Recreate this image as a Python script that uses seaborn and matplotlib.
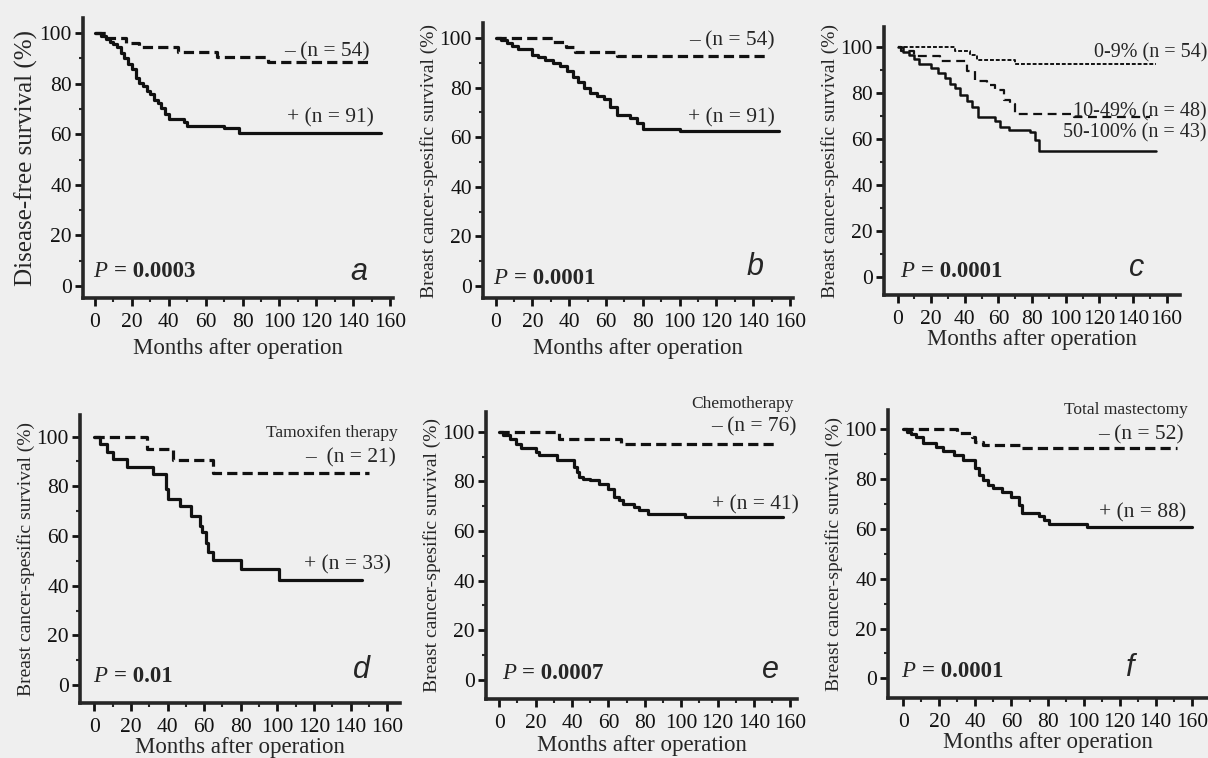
import numpy as np
import pandas as pd
import matplotlib
matplotlib.use("Agg")
import matplotlib.pyplot as plt
from matplotlib.ticker import MultipleLocator
import seaborn as sns

# ---------------- data (months, survival %) ----------------
a_neg_t = [0, 6, 17, 24, 45, 66, 94, 148]
a_neg_s = [100, 98.2, 96.3, 94.4, 92.6, 90.7, 88.5, 88.5]
a_pos_t = [0, 3, 6, 8, 10, 12, 14, 16, 18, 20, 22, 24, 26, 28, 30, 32, 34, 36, 38, 40, 48, 50, 70, 78, 155]
a_pos_s = [100, 99, 97.8, 96.7, 95.6, 94.5, 92.3, 90.1, 87.9, 85.7, 82.4, 80.2, 79.1, 77.0, 75.8, 73.6, 72.5, 70.3, 68.1, 66.0, 64.8, 63.4, 62.5, 60.5, 60.5]

b_neg_t = [0, 31, 38, 43, 66, 148]
b_neg_s = [100, 98.2, 96.4, 94.5, 92.6, 92.6]
b_pos_t = [0, 3, 6, 9, 12, 20, 23, 27, 31, 35, 39, 42, 45, 48, 51, 55, 59, 62, 66, 73, 77, 80, 100, 154]
b_pos_s = [100, 99, 97.8, 96.7, 95.5, 93.3, 92.2, 91.1, 90.0, 88.8, 86.6, 84.4, 82.2, 80.0, 77.8, 76.7, 75.5, 72.2, 68.9, 67.8, 65.6, 63.3, 62.4, 62.4]

c_low_t = [0, 34, 43, 47, 70, 154]
c_low_s = [100, 98.1, 96.3, 94.4, 92.5, 92.5]
c_mid_t = [0, 2, 10, 25, 41, 46, 53, 58, 63, 67, 70, 105, 150]
c_mid_s = [100, 97.9, 95.8, 93.6, 89.5, 85.3, 83.2, 81.1, 77.0, 74.9, 70.6, 69.6, 69.6]
c_high_t = [0, 3, 7, 10, 13, 20, 24, 28, 31, 34, 37, 41, 44, 48, 58, 61, 66, 79, 82, 84, 154]
c_high_s = [100, 97.7, 96.4, 94.5, 92.3, 90.6, 88.5, 86.6, 84.0, 82.0, 78.8, 76.6, 74.0, 69.6, 67.9, 65.1, 64.0, 63.0, 59.5, 54.6, 54.6]

d_neg_t = [0, 29, 43, 65, 150]
d_neg_s = [100, 95.2, 90.5, 85.2, 85.2]
d_pos_t = [0, 3, 7, 10, 18, 32, 39, 40, 47, 53, 58, 59, 61, 62, 65, 80, 101, 146]
d_pos_s = [100, 97.0, 93.9, 90.9, 87.9, 84.8, 78.8, 75.0, 72.0, 68.0, 64.2, 61.5, 57.0, 53.7, 50.3, 46.6, 42.3, 42.3]

e_neg_t = [0, 33, 67, 153]
e_neg_s = [100, 97.3, 95.3, 95.3]
e_pos_t = [0, 2, 6, 9, 12, 20, 22, 32, 41, 43, 44, 46, 50, 55, 60, 63, 66, 68, 74, 77, 82, 102, 156]
e_pos_s = [100, 98.7, 97.3, 95.3, 93.3, 91.9, 90.6, 88.6, 85.9, 83.9, 81.9, 81.0, 80.5, 79.0, 77.0, 73.8, 72.5, 70.9, 69.8, 68.5, 67.0, 65.8, 65.8]

f_neg_t = [0, 30, 38, 40, 44, 66, 152]
f_neg_s = [100, 98.4, 96.8, 95.0, 93.7, 92.4, 92.4]
f_pos_t = [0, 2, 4, 7, 11, 18, 22, 28, 33, 40, 42, 44, 47, 50, 55, 60, 64, 66, 75, 78, 81, 102, 160]
f_pos_s = [100, 99.0, 98.0, 97.0, 94.6, 93.0, 91.3, 89.7, 87.7, 84.3, 81.7, 79.7, 77.7, 76.4, 75.0, 73.0, 69.6, 66.5, 65.2, 63.6, 62.0, 60.9, 60.9]

x_ticks = [0, 20, 40, 60, 80, 100, 120, 140, 160]
y_ticks = [0, 20, 40, 60, 80, 100]

# ---------------- style ----------------
sns.set_style("ticks")
plt.rcParams["font.family"] = ["Liberation Serif", "DejaVu Serif"]
plt.rcParams["axes.linewidth"] = 2.6

W, H = 1208, 758
fig = plt.figure(figsize=(W / 100, H / 100), dpi=100, facecolor="#efefef")

def make_ax(left, right, top, bottom, xlim, ylim):
    ax = fig.add_axes([left / W, 1 - bottom / H, (right - left) / W, (bottom - top) / H])
    ax.set_facecolor("none")
    ax.set_xlim(*xlim)
    ax.set_ylim(*ylim)
    sns.despine(ax=ax)
    ax.set_xticks(x_ticks)
    ax.set_yticks(y_ticks)
    ax.xaxis.set_minor_locator(MultipleLocator(10))
    ax.yaxis.set_minor_locator(MultipleLocator(10))
    ax.tick_params(which="major", direction="out", length=6, width=2, labelsize=15.5, pad=2, colors="#111111")
    ax.tick_params(axis="x", which="major", pad=5)
    ax.tick_params(which="minor", direction="out", length=3, width=1.5)
    return ax

SOLID = dict(color="#111111", lw=2.3)
DASH = dict(color="#111111", lw=2.3, linestyle=(0, (3.2, 1.6)))

def curve(ax, t, s, **kw):
    df = pd.DataFrame({"t": t, "s": s})
    sns.lineplot(data=df, x="t", y="s", ax=ax, drawstyle="steps-post", estimator=None, legend=False, **kw)

def xlab(ax, pad):
    ax.set_xlabel("Months after operation", fontsize=16.5, labelpad=pad)

def pval(ax, x, y, val):
    ax.text(x, y, "P", fontsize=16.5, style="italic", va="center", ha="left")
    ax.annotate("= " + val, xy=(x, y), xytext=(15, 0), textcoords="offset points",
                fontsize=16.5, fontweight="bold", va="center", ha="left")

def letter(ax, x, y, s):
    ax.text(x, y, s, fontsize=22, style="italic", family="Liberation Sans", ha="center", va="center")

# ---- panel a ----
ax = make_ax(83, 393, 18, 298, (-6.5, 161.6), (-4.75, 106))
curve(ax, a_neg_t, a_neg_s, **DASH)
curve(ax, a_pos_t, a_pos_s, **SOLID)
xlab(ax, 4)
ax.set_ylabel("Disease-free survival (%)", fontsize=18, labelpad=1)
ax.text(149, 92.7, "– (n = 54)", fontsize=15.5, ha="right", va="center")
ax.text(151, 66.4, "+ (n = 91)", fontsize=15.5, ha="right", va="center")
pval(ax, -1, 5.7, "0.0003")
letter(ax, 143, 5.7, "a")

# ---- panel b ----
ax = make_ax(483, 793, 23, 298, (-6.9, 161.6), (-4.8, 106))
curve(ax, b_neg_t, b_neg_s, **DASH)
curve(ax, b_pos_t, b_pos_s, **SOLID)
xlab(ax, 4)
ax.set_ylabel("Breast cancer-spesific survival (%)", fontsize=14, labelpad=1)
ax.text(151.8, 98.7, "– (n = 54)", fontsize=15.5, ha="right", va="center")
ax.text(151.8, 67.7, "+ (n = 91)", fontsize=15.5, ha="right", va="center")
pval(ax, -1.3, 3.1, "0.0001")
letter(ax, 141, 7.8, "b")

# ---- panel c ----
ax = make_ax(884, 1180, 27, 295, (-8.1, 168), (-7.7, 108.5))
curve(ax, c_low_t, c_low_s, color="#111111", lw=1.4, linestyle=(0, (2, 1)))
curve(ax, c_mid_t, c_mid_s, color="#111111", lw=1.6, linestyle=(0, (4, 2.5)))
curve(ax, c_high_t, c_high_s, color="#111111", lw=1.8)
xlab(ax, 0)
ax.set_ylabel("Breast cancer-spesific survival (%)", fontsize=14, labelpad=1)
ax.text(184, 97.1, "0-9% (n = 54)", fontsize=14.5, ha="right", va="center")
ax.text(184, 71.8, "10-49% (n = 48)", fontsize=14.5, ha="right", va="center")
ax.text(184, 62.4, "50-100% (n = 43)", fontsize=14.5, ha="right", va="center")
pval(ax, 1.4, 2.5, "0.0001")
letter(ax, 142, 3.8, "c")

# ---- panel d ----
ax = make_ax(80, 400, 415, 703, (-7.8, 167), (-7.2, 108.7))
curve(ax, d_neg_t, d_neg_s, **DASH)
curve(ax, d_pos_t, d_pos_s, **SOLID)
xlab(ax, 0)
ax.set_ylabel("Breast cancer-spesific survival (%)", fontsize=14, labelpad=1)
ax.text(165.5, 101.3, "Tamoxifen therapy", fontsize=12.5, ha="right", va="center")
ax.text(164.6, 91.3, "–  (n = 21)", fontsize=15.5, ha="right", va="center")
ax.text(162, 48.3, "+ (n = 33)", fontsize=15.5, ha="right", va="center")
pval(ax, -0.5, 3.4, "0.01")
letter(ax, 146, 6, "d")

# ---- panel e ----
ax = make_ax(486, 797, 412, 699, (-7.3, 163.7), (-7.7, 108))
curve(ax, e_neg_t, e_neg_s, **DASH)
curve(ax, e_pos_t, e_pos_s, **SOLID)
xlab(ax, 1)
ax.set_ylabel("Breast cancer-spesific survival (%)", fontsize=14, labelpad=1)
ax.text(161.8, 111.4, "Chemotherapy", fontsize=12.5, ha="right", va="center")
ax.text(163.7, 102, "– (n = 76)", fontsize=15.5, ha="right", va="center")
ax.text(164.6, 70.5, "+ (n = 41)", fontsize=15.5, ha="right", va="center")
pval(ax, 1.3, 2.7, "0.0007")
letter(ax, 149, 4, "e")

# ---- panel f ----
ax = make_ax(888, 1208, 410, 698, (-8.5, 169), (-7.9, 107.8))
curve(ax, f_neg_t, f_neg_s, **DASH)
curve(ax, f_pos_t, f_pos_s, **SOLID)
xlab(ax, 0)
ax.set_ylabel("Breast cancer-spesific survival (%)", fontsize=14, labelpad=1)
ax.text(158, 107.8, "Total mastectomy", fontsize=12.5, ha="right", va="center")
ax.text(155.3, 97.7, "– (n = 52)", fontsize=15.5, ha="right", va="center")
ax.text(157, 66.3, "+ (n = 88)", fontsize=15.5, ha="right", va="center")
pval(ax, -1, 2.7, "0.0001")
letter(ax, 125.7, 4, "f")

fig.savefig("out.png", dpi=100, facecolor=fig.get_facecolor())
